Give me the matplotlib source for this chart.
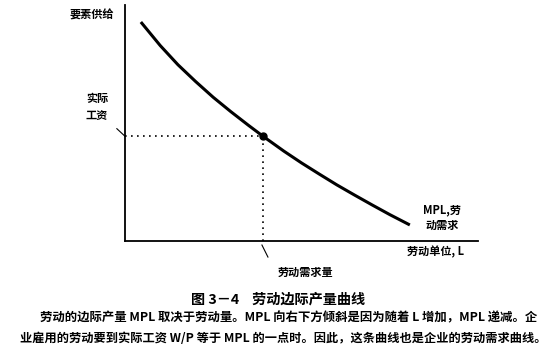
import matplotlib
matplotlib.use("Agg")
import matplotlib.pyplot as plt

plt.rcParams["font.family"] = ["Noto Sans CJK SC", "DejaVu Sans"]
plt.rcParams["font.weight"] = "bold"

# MPL curve (arbitrary units, axes run 0..10)
mpl_x = [0.45, 1.0, 1.5, 2.0, 2.5, 3.0, 3.5, 3.91, 4.5, 5.0, 5.5, 6.0, 6.5, 7.0, 7.5, 8.07]
mpl_y = [9.28, 8.28, 7.47, 6.76, 6.09, 5.48, 4.90, 4.44, 3.81, 3.31, 2.84, 2.38, 1.95, 1.53, 1.12, 0.68]

# equilibrium point: real wage = MPL
eq_labor = 3.91
eq_wage = 4.44

y_label = "要素供给"
wage_label = ["实际", "工资"]
curve_label = ["MPL,劳", "动需求"]
x_label = "劳动单位, L"
demand_label = "劳动需求量"
caption = "图 3－4    劳动边际产量曲线"
note_lines = [
    "劳动的边际产量 MPL 取决于劳动量。MPL 向右下方倾斜是因为随着 L 增加，MPL 递减。企",
    "业雇用的劳动要到实际工资 W/P 等于 MPL 的一点时。因此，这条曲线也是企业的劳动需求曲线。",
]

fig = plt.figure(figsize=(5.52, 3.56), dpi=100)
ax = fig.add_axes([0.2264, 0.323, 0.6395, 0.6629])
ax.set_xlim(0, 10)
ax.set_ylim(0, 10)
for side in ["top", "right"]:
    ax.spines[side].set_visible(False)
for side in ["left", "bottom"]:
    ax.spines[side].set_linewidth(1.3)
ax.set_xticks([])
ax.set_yticks([])

# the curve and the equilibrium point
ax.plot(mpl_x, mpl_y, color="black", lw=2.2, solid_capstyle="butt",
        solid_joinstyle="round")
ax.plot([eq_labor], [eq_wage], "o", color="black", ms=5)
ax.plot([0, eq_labor], [eq_wage, eq_wage], color="black", lw=1.2,
        linestyle=(0, (1, 2.6)))
ax.plot([eq_labor, eq_labor], [0, eq_wage], color="black", lw=1.2,
        linestyle=(0, (1, 2.6)))

# labels
fs = 8
ax.text(-0.31, 9.58, y_label, ha="right", va="center", fontsize=fs, clip_on=False)
ax.text(-0.79, 6.02, wage_label[0], ha="center", va="center", fontsize=fs, clip_on=False)
ax.text(-0.79, 5.30, wage_label[1], ha="center", va="center", fontsize=fs, clip_on=False)
ax.plot([-0.23, 0], [eq_wage + 0.32, eq_wage], color="black", lw=0.8, clip_on=False)

ax.text(8.98, 1.31, curve_label[0], ha="center", va="center", fontsize=fs, clip_on=False)
ax.text(8.98, 0.68, curve_label[1], ha="center", va="center", fontsize=fs, clip_on=False)
ax.text(8.81, -0.47, x_label, ha="center", va="center", fontsize=fs, clip_on=False)

ax.plot([eq_labor - 0.03, eq_labor + 0.14], [-0.17, -0.68], color="black", lw=0.8,
        clip_on=False)
ax.text(4.33, -1.31, demand_label, ha="left", va="center", fontsize=fs, clip_on=False)

# caption below the chart
fig.text(0.503, 1 - 300 / 356, caption, ha="center", va="center", fontsize=10.2)
fig.text(40 / 552, 1 - 318 / 356, note_lines[0], ha="left", va="center", fontsize=8.9)
fig.text(20 / 552, 1 - 338 / 356, note_lines[1], ha="left", va="center", fontsize=8.8)

fig.savefig("out.png", dpi=100)
